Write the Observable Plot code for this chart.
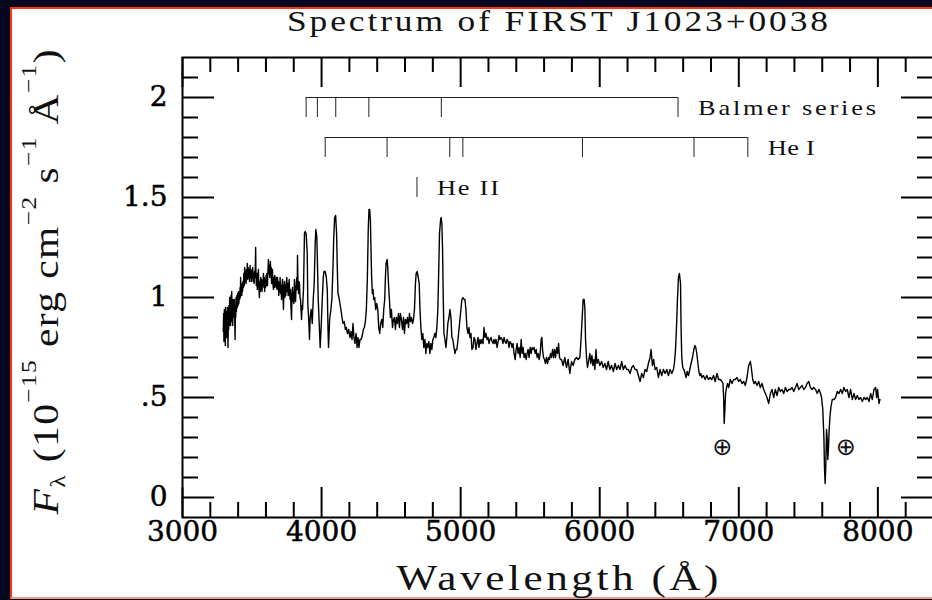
<!DOCTYPE html>
<html><head><meta charset="utf-8">
<script src="https://cdn.jsdelivr.net/npm/d3@7"></script>
<script src="https://cdn.jsdelivr.net/npm/@observablehq/plot@0.6"></script>
<style>
html,body{margin:0;padding:0;width:932px;height:600px;overflow:hidden;background:#050720;}
#panel{position:absolute;left:10px;top:7px;width:940px;height:588px;background:#fff;border-left:2px solid #ff3311;border-top:2px solid #ff3311;border-bottom:2px solid #f39a88;}
#chart{position:absolute;left:0;top:0;width:945px;height:600px;}
#chart svg{max-width:none !important;}
</style></head><body><div id="panel"></div><div id="chart"></div>
<script>
const title = "Spectrum of FIRST J1023+0038";
const xLabel = "Wavelength (Å)";
const xTicks = [3000, 4000, 5000, 6000, 7000, 8000];
const xTickLabels = ["3000", "4000", "5000", "6000", "7000", "8000"];
const yTicks = [0, 0.5, 1, 1.5, 2];
const yTickLabels = ["0", ".5", "1", "1.5", "2"];

const wavelength = [
3293,3296,3298,3301,3303,3306,3308,3310,3313,3315,
3317,3320,3322,3324,3327,3330,3332,3334,3337,3339,
3341,3344,3346,3349,3351,3354,3356,3358,3361,3363,
3366,3368,3370,3373,3375,3378,3381,3383,3385,3388,
3391,3394,3397,3400,3402,3405,3408,3411,3414,3416,
3418,3421,3424,3426,3429,3432,3435,3438,3441,3444,
3447,3450,3453,3457,3460,3463,3466,3469,3472,3476,
3479,3482,3486,3489,3492,3495,3498,3501,3505,3508,
3511,3515,3518,3522,3526,3528,3531,3534,3538,3542,
3546,3549,3553,3556,3559,3563,3566,3569,3572,3575,
3578,3582,3585,3588,3591,3594,3597,3601,3604,3607,
3611,3614,3618,3621,3625,3628,3632,3635,3638,3640,
3643,3647,3650,3654,3657,3660,3664,3667,3670,3673,
3676,3680,3683,3686,3689,3692,3695,3698,3702,3705,
3708,3712,3715,3719,3722,3726,3729,3733,3736,3740,
3743,3746,3750,3753,3756,3760,3763,3767,3770,3774,
3777,3780,3784,3787,3791,3794,3798,3801,3805,3808,
3813,3817,3822,3825,3827,3830,3834,3837,3841,3845,
3849,3853,3856,3860,3863,3867,3870,
3877,3882,3889,3897,3901,
3909,3913,3918,3925,3933,3940,3947,3954,3959,3966,
3971,3976,3983,3990,3998,4005,4012,4017,4026,4034,
4041,4046,4050,4058,4067,4074,4082,4087,4094,4101,
4108,4113,4118,4125,4132,4139,4147,4154,4163,4171,
4178,4187,4195,4204,4211,4219,4226,4233,4240,4248,
4255,4262,4269,4276,4284,4293,4300,4308,4315,4322,
4329,4336,4341,4346,4351,4356,4360,4365,4370,4375,
4382,4389,4397,4404,4411,4418,4425,4433,4440,4447,
4454,4459,4464,4471,4476,4481,4488,4495,4502,4510,
4517,4524,4531,4538,4546,4553,4560,4567,4574,4582,
4589,4596,4603,4610,4618,4625,4632,4639,4646,4654,
4661,4668,4675,4680,4687,4695,4702,4707,4714,4721,
4728,4735,4743,4750,4757,4764,4771,4779,4786,4793,
4800,4807,4815,4822,4829,4836,4841,4848,4856,4860,
4865,4870,4875,4880,4887,4894,4901,4908,4916,4923,
4930,4937,4944,4952,4959,4966,4973,4981,4988,4995,
5002,5009,5017,5024,5031,5038,5045,5053,5060,5067,
5074,5081,5089,5096,5103,5110,5117,5125,5132,5139,
5146,5154,5161,5168,5175,5182,5190,5197,5204,5211,
5218,5226,5233,5240,5247,5254,5262,5269,5276,5283,
5291,5298,5305,5312,5319,5327,5334,5341,5348,5355,
5363,5370,5377,5384,5392,5399,5406,5413,5420,5428,
5435,5442,5449,5456,5464,5471,5478,5485,5492,5500,
5507,5514,5521,5528,5536,5543,5550,5557,5564,5572,
5579,5584,5589,5596,5603,5610,5617,5625,5632,5639,
5646,5653,5661,5668,5675,5682,5690,5697,5704,5711,5718,
5725,5737,5749,5761,5773,5785,5797,5809,5821,5833,
5845,5857,5864,5874,5881,5888,5893,5898,5905,5912,
5922,5929,5936,5944,5951,5958,5965,5973,5980,5989,
6001,6013,6025,6037,6049,6061,6073,6085,6098,6110,
6122,6134,6146,6158,6170,6182,6194,6206,6218,6230,
6242,6254,6266,6278,6290,6302,6314,6326,6338,6350,
6362,6369,6379,6388,6398,6410,6422,6434,6446,6458,
6470,6482,6494,6506,6518,6530,6537,6545,6552,6559,
6566,6573,6581,6585,6590,6597,6605,6614,6621,6629,
6638,6648,6657,6667,6677,6684,6691,6698,6706,6713,
6720,6727,6734,6746,6758,6770,6782,6794,6806,6818,
6830,6843,6855,6867,6879,6886,6891,6895,6900,6905,
6912,6919,6927,6939,6951,6963,6975,6987,6999,7011,
7023,7035,7047,7059,7071,7083,7090,7100,7109,7119,
7131,7143,7155,7167,7179,7191,7203,7215,7227,7239,
7251,7263,7275,7287,7299,7311,7323,7335,7347,7359,
7371,7383,7395,7407,7419,7431,7443,7455,7467,7479,
7491,7503,7515,7527,7539,7552,7564,7576,7588,7595,
7604,7612,7616,7621,7626,7631,7636,7640,7645,7650,
7655,7662,7672,7684,7696,7708,7720,7732,7744,7756,
7768,7780,7792,7804,7816,7828,7840,7852,7864,7876,
7888,7900,7912,7924,7936,7948,7960,7972,7984,7991,
7998,8008,8015
];
const flux = [
.83,.92,.78,.94,.84,.90,.76,.95,.85,.93,
.80,.91,.86,.95,.75,.90,.84,.96,.86,1.00,
.90,.97,.86,1.01,.92,1.03,.88,.95,.86,.99,
.90,.97,.91,.99,.92,.79,.95,.90,1.00,.93,
1.01,.95,1.02,.96,1.03,.97,1.01,.99,1.05,1.00,
1.10,1.02,1.06,1.01,1.07,1.03,1.08,1.05,1.12,1.06,
1.15,1.08,1.13,1.07,1.14,1.10,1.17,1.09,1.15,1.10,
1.14,1.08,1.16,1.10,1.14,1.08,1.13,1.10,1.15,1.08,
1.12,1.07,1.13,1.10,1.25,1.12,1.06,1.12,1.04,1.11,
1.14,1.05,1.00,1.08,1.03,1.10,1.04,1.09,1.03,1.08,
1.05,1.12,1.06,1.10,1.03,1.09,1.05,1.11,1.06,1.12,
1.06,1.13,1.19,1.12,1.16,1.10,1.18,1.12,1.15,1.07,
1.12,1.14,1.07,1.04,1.10,1.05,1.11,1.06,1.09,1.05,
1.10,1.04,1.10,1.05,1.08,1.01,1.07,1.03,1.10,1.02,
1.06,.99,1.05,1.09,1.02,.94,1.04,1.08,1.00,1.06,
1.01,1.07,1.10,1.03,1.07,1.01,1.06,1.09,1.02,.99,
1.04,.95,.89,1.00,1.05,.98,1.02,.97,1.09,1.00,
.98,1.06,1.10,1.04,1.21,1.08,1.02,1.08,1.07,1.00,
.99,.93,.89,.96,.94,1.00,1.04,
1.32,1.33,1.32,1.22,.97,
.87,.79,.90,.94,.87,.99,1.07,1.27,1.34,1.30,
1.15,.99,.87,.75,.87,.99,1.10,1.13,1.13,1.10,
1.04,.85,.75,.89,.94,.99,1.15,1.29,1.40,1.41,
1.32,1.15,1.02,1.00,.97,.94,.90,.87,.88,.84,
.85,.82,.84,.80,.83,.79,.87,.80,.77,.82,
.75,.80,.75,.79,.79,.81,.84,.85,.88,.94,
1.09,1.35,1.44,1.44,1.39,1.22,1.10,1.02,1.04,.99,
1.00,.94,.97,.94,.85,.82,.87,.89,.85,.94,
.99,1.10,1.17,1.19,1.15,1.07,.99,.90,.94,.85,
.89,.90,.84,.90,.87,.92,.85,.92,.89,.84,
.90,.82,.89,.87,.90,.85,.92,.88,.90,.87,
.89,.94,1.07,1.12,1.13,1.10,1.07,.95,.85,.79,
.82,.75,.79,.72,.77,.75,.78,.72,.77,.74,
.79,.80,.82,.80,.85,.94,1.09,1.32,1.39,1.40,
1.37,1.24,.99,.82,.79,.75,.80,.87,.90,.94,
.90,.80,.79,.75,.72,.74,.74,.79,.84,.89,
.94,.99,1.00,.99,.99,.94,.85,.82,.85,.80,
.82,.74,.75,.80,.79,.74,.77,.80,.75,.79,
.77,.79,.77,.85,.80,.82,.79,.80,.77,.79,
.80,.78,.77,.79,.77,.79,.75,.78,.81,.79,
.80,.79,.77,.80,.78,.77,.79,.78,.75,.78,
.77,.75,.77,.72,.69,.74,.77,.72,.75,.70,
.79,.72,.75,.70,.72,.69,.72,.74,.70,.75,
.72,.75,.74,.75,.72,.74,.70,.72,.69,.72,
.79,.80,.74,.70,.69,.67,.70,.67,.70,.69,
.72,.70,.74,.70,.74,.70,.75,.72,.77,.70,.69,
.69,.66,.70,.65,.69,.62,.68,.66,.69,.70,
.69,.70,.77,.90,.99,.99,.95,.79,.70,.65,
.69,.72,.67,.71,.66,.69,.64,.74,.67,.69,
.66,.68,.65,.67,.64,.68,.64,.66,.63,.67,
.64,.66,.64,.68,.64,.66,.64,.64,.62,.65,
.66,.64,.64,.61,.58,.62,.60,.64,.63,.67,
.70,.74,.66,.69,.64,.65,.60,.64,.61,.64,
.62,.64,.61,.64,.62,.64,.67,.74,.85,.99,
1.10,1.12,1.07,.85,.70,.65,.64,.62,.60,.63,
.61,.64,.67,.70,.74,.76,.75,.72,.67,.63,
.61,.62,.60,.61,.59,.61,.59,.60,.59,.61,
.58,.62,.59,.59,.58,.57,.50,.37,.44,.52,
.55,.57,.55,.59,.57,.59,.59,.60,.58,.59,
.57,.58,.56,.60,.66,.68,.65,.59,.57,.58,
.56,.58,.55,.57,.54,.52,.50,.47,.52,.54,
.50,.54,.51,.55,.53,.54,.52,.55,.53,.54,
.54,.55,.53,.55,.57,.54,.55,.56,.54,.55,
.57,.58,.55,.54,.55,.54,.52,.54,.52,.50,
.44,.30,.15,.07,.17,.34,.29,.19,.25,.34,
.40,.45,.49,.49,.50,.53,.52,.54,.52,.55,
.53,.54,.50,.54,.49,.52,.49,.51,.49,.50,
.48,.50,.49,.50,.48,.52,.49,.54,.55,.50,
.54,.47,.49
];

// line lists (Å) and the level of each bracket
const balmerLines = [3889, 3970, 4102, 4340, 4861, 6563];
const heILines = [4026, 4471, 4922, 5016, 5876, 6678, 7065];
const heIILines = [4686];
const seriesNames = ["Balmer series", "He I", "He II"];
const seriesLevels = [2.0, 1.8, 1.6];

// telluric (atmospheric) absorption markers
const telluricX = [6882, 7769];
const telluricY = [0.25, 0.25];

// ---- build tables ----
const n = Math.min(wavelength.length, flux.length);
const spectrum = d3.range(n).map(i => ({w: wavelength[i], f: flux[i]}));
const lineLists = [balmerLines, heILines, heIILines];
const series = seriesNames.map((name, i) => ({name, level: seriesLevels[i], lines: lineLists[i]}));
const lineTicks = series.flatMap(s => s.lines.map(w => ({w, level: s.level})));
const telluric = telluricX.map((x, i) => ({x, y: telluricY[i]}));

const xMajor = xTicks;
const xMinor = d3.range(16, 42).map(i => i * 200).filter(v => v % 1000 !== 0);
const yMajor = yTicks;
const yMinor = d3.range(0, 22).filter(i => i % 5 !== 0).map(i => i / 10);

const W = 945, H = 600, mL = 182, mR = 12, mT = 57, mB = 83;
const fw = W - mL - mR, fh = H - mT - mB;

const serif = "Liberation Serif";
const tickFont = "DejaVu Serif";

const plot = Plot.plot({
  width: W, height: H,
  marginLeft: mL, marginRight: mR, marginTop: mT, marginBottom: mB,
  x: {domain: [3000, 8400], axis: null},
  y: {domain: [-0.1, 2.2], axis: null},
  style: {background: "transparent", overflow: "visible", maxWidth: "none"},
  marks: [
    Plot.line(spectrum, {x: "w", y: "f", stroke: "black", strokeWidth: 1.4}),
    Plot.ruleY(series.filter(s => s.lines.length > 1), {y: "level", x1: s => d3.min(s.lines), x2: s => d3.max(s.lines), stroke: "#222", strokeWidth: 1}),
    Plot.ruleX(lineTicks, {x: "w", y1: "level", y2: d => d.level - 0.1, stroke: "#222", strokeWidth: 1}),
    Plot.text(series, {x: s => d3.max(s.lines), y: s => s.level - 0.05, text: "name", textAnchor: "start", dx: 20,
      fontFamily: serif, fontSize: 22, fill: "#111"}),
    Plot.text(telluric, {x: "x", y: "y", text: () => "\u2295", fontFamily: "DejaVu Sans", fontSize: 24, fill: "#111"}),
    Plot.tickX(xMinor, {x: d => d, insetTop: fh - 15, stroke: "black", strokeWidth: 2}),
    Plot.tickX(xMajor, {x: d => d, insetTop: fh - 30, stroke: "black", strokeWidth: 2}),
    Plot.tickX(xMinor, {x: d => d, insetBottom: fh - 15, stroke: "black", strokeWidth: 2}),
    Plot.tickX(xMajor, {x: d => d, insetBottom: fh - 30, stroke: "black", strokeWidth: 2}),
    Plot.tickY(yMinor, {y: d => d, insetRight: fw - 16, stroke: "black", strokeWidth: 2}),
    Plot.tickY(yMajor, {y: d => d, insetRight: fw - 32, stroke: "black", strokeWidth: 2}),
    Plot.tickY(yMinor, {y: d => d, insetLeft: fw - 16, stroke: "black", strokeWidth: 2}),
    Plot.tickY(yMajor, {y: d => d, insetLeft: fw - 32, stroke: "black", strokeWidth: 2}),
    Plot.frame({stroke: "black", strokeWidth: 2}),
    Plot.text(xTicks, {x: d => d, text: (d, i) => xTickLabels[i], frameAnchor: "bottom", lineAnchor: "top", dy: 4,
      fontFamily: tickFont, fontSize: 28, fill: "black", stroke: "black", strokeWidth: 0.5}),
    Plot.text(yTicks, {y: d => d, text: (d, i) => yTickLabels[i], frameAnchor: "left", textAnchor: "end", dx: -15,
      fontFamily: tickFont, fontSize: 28, fill: "black", stroke: "black", strokeWidth: 0.5})
  ]
});
document.getElementById("chart").appendChild(plot);
plot.style.maxWidth = "none";

const svg = d3.select(plot);
// widen annotation labels like the original plotting font
const stretch = 1.2;
const labelWidths = {"Balmer series": 178, "He I": 47, "He II": 62};
svg.selectAll("text").each(function() {
  const t = this.textContent;
  if (t in labelWidths) {
    const el = d3.select(this);
    const tr = el.attr("transform") || "";
    el.attr("transform", tr + ` scale(${stretch},1)`)
      .attr("textLength", labelWidths[t] / stretch).attr("lengthAdjust", "spacing");
  }
});

const cx = mL + fw / 2;
// title
svg.append("text").attr("transform", `translate(${cx},31) scale(1.18,1)`).attr("text-anchor", "middle")
  .attr("font-family", serif).attr("font-size", 30).attr("fill", "#111")
  .attr("textLength", 541 / 1.18).attr("lengthAdjust", "spacing").text(title);
// x label
svg.append("text").attr("transform", `translate(${cx},590) scale(1.2,1)`).attr("text-anchor", "middle")
  .attr("font-family", serif).attr("font-size", 36).attr("fill", "#111")
  .attr("textLength", 322 / 1.2).attr("lengthAdjust", "spacing").text(xLabel);
// y label
const yl = svg.append("text").attr("transform", "translate(58,282) rotate(-90) scale(1.15,1)")
  .attr("text-anchor", "middle").attr("font-family", serif).attr("font-size", 36).attr("fill", "#111")
  .attr("textLength", 465 / 1.15).attr("lengthAdjust", "spacing");
yl.append("tspan").attr("font-style", "italic").text("F");
yl.append("tspan").attr("font-size", 22).attr("dy", 7).text("λ");
yl.append("tspan").attr("dy", -7).text(" (10");
yl.append("tspan").attr("font-size", 22).attr("dy", -22).text("−15");
yl.append("tspan").attr("dy", 22).text(" erg cm");
yl.append("tspan").attr("font-size", 22).attr("dy", -22).text("−2");
yl.append("tspan").attr("dy", 22).text(" s");
yl.append("tspan").attr("font-size", 22).attr("dy", -22).text("−1");
yl.append("tspan").attr("dy", 22).text(" Å");
yl.append("tspan").attr("font-size", 22).attr("dy", -22).text("−1");
yl.append("tspan").attr("dy", 22).text(")");
</script></body></html>
